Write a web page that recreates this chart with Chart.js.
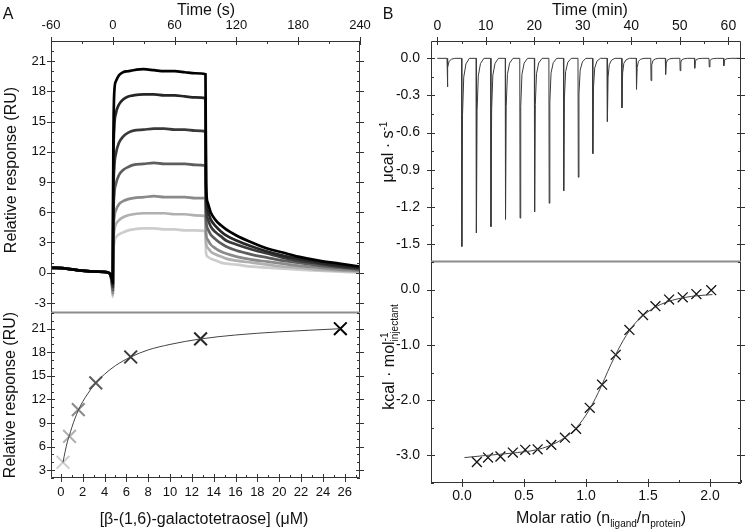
<!DOCTYPE html>
<html>
<head>
<meta charset="utf-8">
<script src="https://cdn.jsdelivr.net/npm/chart.js@4.4.0/dist/chart.umd.min.js"></script>
<style>
body{margin:0;width:745px;height:532px;position:relative;background:#fff;font-family:"Liberation Sans",Arial,sans-serif;color:#111;overflow:hidden}
canvas{position:absolute}
.t{position:absolute;white-space:nowrap;font-size:16px;line-height:1;transform:translate(-50%,-50%)}
.v{transform:translate(-50%,-50%) rotate(-90deg)}
sub,sup{font-size:10px;line-height:0}
.ss{display:inline-block;vertical-align:middle;line-height:1;font-size:10px}
.ss span{display:block}
</style>
</head>
<body>
<canvas id="a1" width="372" height="316" style="left:0px;top:0px"></canvas>
<canvas id="a2" width="372" height="222" style="left:0px;top:310px"></canvas>
<canvas id="b1" width="373" height="265" style="left:372px;top:0px"></canvas>
<canvas id="b2" width="373" height="273" style="left:372px;top:259px"></canvas>

<div class="t" style="left:8px;top:14px">A</div>
<div class="t" style="left:388px;top:14px">B</div>
<div class="t" style="left:206px;top:10px">Time (s)</div>
<div class="t" style="left:590px;top:10px">Time (min)</div>
<div class="t v" style="left:11px;top:170px">Relative response (RU)</div>
<div class="t v" style="left:10px;top:395px">Relative response (RU)</div>
<div class="t" style="left:204px;top:519px">[β-(1,6)-galactotetraose] (μM)</div>
<div class="t v" style="left:388px;top:152px">μcal · s<sup>-1</sup></div>
<div class="t v" style="left:390px;top:357px">kcal · mol<span class="ss"><span>-1</span><span>injectant</span></span></div>
<div class="t" style="left:601px;top:518px">Molar ratio (n<sub>ligand</sub>/n<sub>protein</sub>)</div>

<script>
// A: SPR sensorgrams (Time in s)
const sprTime=[-60,-45,-30,-15,-4,-1,0,0.5,1.5,3,6,10,15,20,30,40,50,60,70,80,90,90.5,92,95,100,105,110,120,135,150,165,180,200,220,240]
const spr256=[0.5,0.4,0.2,0.1,0.0,-0.5,-1.0,12,18.0,19.0,19.6,19.9,20.0,20.1,20.2,20.1,20.0,20.0,19.9,19.8,19.7,9.0,7.0,6.0,5.2,4.7,4.3,3.7,3.0,2.4,2.0,1.6,1.2,0.9,0.6]
const spr128=[0.5,0.4,0.2,0.1,0.0,-0.6,-1.2,10,14.5,15.8,16.7,17.2,17.5,17.6,17.7,17.7,17.6,17.6,17.5,17.4,17.3,8.0,6.2,5.3,4.6,4.1,3.7,3.2,2.6,2.1,1.7,1.4,1.0,0.7,0.5]
const spr64=[0.5,0.4,0.2,0.1,0.0,-0.7,-1.4,7,10.5,11.8,12.9,13.5,13.9,14.1,14.2,14.3,14.3,14.2,14.2,14.1,14.0,7.0,5.4,4.6,4.0,3.6,3.2,2.8,2.3,1.9,1.5,1.2,0.9,0.6,0.4]
const spr32=[0.5,0.4,0.2,0.1,0.0,-0.8,-1.7,5,7.8,8.8,9.7,10.2,10.5,10.7,10.8,10.9,10.8,10.8,10.8,10.7,10.6,5.5,4.4,3.8,3.3,2.9,2.6,2.2,1.8,1.5,1.2,1.0,0.7,0.5,0.3]
const spr16=[0.5,0.4,0.2,0.1,0.0,-0.9,-2.0,3.5,5.5,6.2,6.8,7.1,7.3,7.4,7.5,7.6,7.5,7.5,7.5,7.4,7.4,4.0,3.3,2.8,2.4,2.1,1.9,1.6,1.3,1.1,0.9,0.7,0.5,0.3,0.2]
const spr08=[0.5,0.4,0.2,0.1,0.0,-1.0,-2.2,2.5,4.2,4.8,5.2,5.5,5.7,5.8,5.9,5.9,5.9,5.8,5.8,5.7,5.6,3.0,2.5,2.1,1.8,1.6,1.4,1.2,1.0,0.8,0.6,0.5,0.3,0.2,0.1]
const spr02=[0.5,0.4,0.2,0.1,0.0,-1.1,-2.4,1.5,3.0,3.5,3.8,4.0,4.2,4.3,4.4,4.4,4.3,4.3,4.2,4.2,4.1,2.0,1.6,1.4,1.2,1.0,0.9,0.8,0.6,0.5,0.4,0.3,0.2,0.1,0.0]
const sprSeries=[spr256,spr128,spr64,spr32,spr16,spr08,spr02]
const sprColors=["#000000","#262626","#3a3a3a","#5e5e5e","#8a8a8a","#b0b0b0","#cdcdcd"]
const timeSTicks=[-60,0,60,120,180,240]
const respTicks=[-3,0,3,6,9,12,15,18,21]

// A: steady-state response vs concentration
const concPoints=[25.6,12.8,6.4,3.2,1.6,0.8,0.2]
const respPoints=[21.0,19.7,17.4,14.1,10.7,7.3,4.0]
const concFit=[0.2,0.4,0.6,0.8,1.0,1.3,1.6,2.0,2.5,3.2,4,5,6.4,8,10,12.8,16,20,25.6]
const respFit=[4.0,5.4,6.6,7.5,8.4,9.6,10.6,11.7,12.8,14.1,15.2,16.3,17.4,18.3,19.0,19.7,20.2,20.6,21.0]
const concTicks=[0,2,4,6,8,10,12,14,16,18,20,22,24,26]
const resp2Ticks=[3,6,9,12,15,18,21]

// B: ITC raw heats (Time in min)
const injTimes=[2,5,8,11,14,17,20,23,26,29,32,35,38,41,44,47,50,53,56,59]
const injPeaks=[-0.23,-1.52,-1.41,-1.36,-1.30,-1.29,-1.24,-1.17,-1.07,-0.96,-0.77,-0.51,-0.40,-0.25,-0.18,-0.13,-0.10,-0.08,-0.07,-0.06]
const spikeDt=[0,0.06,0.2,0.45,0.9,1.6]
const spikeFrac=[0,1,0.3,0.1,0.03,0]
const timeMinTicks=[0,10,20,30,40,50,60]
const heatTicks=[-1.5,-1.2,-0.9,-0.6,-0.3,0]

// B: integrated heats
const ratioPoints=[0.12,0.21,0.31,0.41,0.51,0.61,0.72,0.83,0.92,1.03,1.13,1.24,1.35,1.46,1.56,1.67,1.78,1.89,2.01]
const dhPoints=[-3.12,-3.04,-3.02,-2.95,-2.90,-2.89,-2.81,-2.68,-2.52,-2.14,-1.72,-1.18,-0.73,-0.46,-0.30,-0.18,-0.14,-0.08,-0.01]
const ratioFit=[0.02,0.2,0.4,0.6,0.7,0.8,0.9,1.0,1.1,1.2,1.3,1.4,1.5,1.6,1.7,1.8,1.9,2.02]
const dhFit=[-3.04,-3.0,-2.96,-2.9,-2.83,-2.72,-2.55,-2.27,-1.86,-1.36,-0.92,-0.6,-0.4,-0.27,-0.19,-0.14,-0.11,-0.09]
const ratioTicks=[0,0.5,1.0,1.5,2.0]
const dhTicks=[-3,-2,-1,0]

const FONT='"Liberation Sans", Arial, sans-serif'
const xy=(xs,ys)=>xs.map((x,i)=>({x:x,y:ys[i]}))

const fixSize=(n)=>(s)=>{
    if(s.isHorizontal()) s.height=n; else s.width=n;
    s.paddingLeft=s.paddingRight=s.paddingTop=s.paddingBottom=0;
}
const setTicks=(arr)=>(s)=>{ s.ticks=arr.map(v=>({value:v})) }

// frame + inner/outer tick marks
const drawMarks=(ctx,scale,step,edges,a)=>{
    const majors=scale.ticks.map(t=>t.value)
    const mark=(v,out,inn)=>{
        const p=Math.round(scale.getPixelForValue(v))+0.5
        edges.forEach(e=>{
            ctx.beginPath()
            if(e=="top"){ctx.moveTo(p,a.top-out);ctx.lineTo(p,a.top+inn)}
            if(e=="bottom"){ctx.moveTo(p,a.bottom+out);ctx.lineTo(p,a.bottom-inn)}
            if(e=="left"){ctx.moveTo(a.left-out,p);ctx.lineTo(a.left+inn,p)}
            if(e=="right"){ctx.moveTo(a.right+out,p);ctx.lineTo(a.right-inn,p)}
            ctx.stroke()
        })
    }
    for(let v=Math.ceil(scale.min/step)*step; v<=scale.max+1e-9; v+=step){
        const r=+v.toFixed(6)
        if(!majors.some(m=>Math.abs(m-r)<1e-6)) mark(r,0,3)
    }
    majors.forEach(v=>mark(v,4,4))
}

const framePlugin={
    id:"frame",
    afterDraw(chart,args,opts){
        const {ctx,chartArea:a,scales}=chart
        ctx.save()
        ctx.strokeStyle="#333"
        ctx.lineWidth=1
        drawMarks(ctx,scales.x,opts.xMinor,opts.xEdges,a)
        drawMarks(ctx,scales.y,opts.yMinor,["left","right"],a)
        const side=(name,x1,y1,x2,y2)=>{
            if(opts.skip==name) return
            const sep=opts.sep==name
            ctx.strokeStyle=sep?"#8c8c8c":"#333"
            ctx.lineWidth=sep?2:1
            ctx.beginPath();ctx.moveTo(x1,y1);ctx.lineTo(x2,y2);ctx.stroke()
        }
        const L=Math.round(a.left)+0.5,R=Math.round(a.right)-0.5,T=Math.round(a.top)+0.5,B=Math.round(a.bottom)-0.5
        side("left",L,T,L,B)
        side("right",R,T,R,B)
        side("top",L,T,R,T)
        side("bottom",L,B,R,B)
        ctx.restore()
    }
}

const tickFont=(n)=>({family:FONT,size:n})

const makeChart=(id,datasets,cfg)=>{
    return new Chart(document.getElementById(id),{
        type:"line",
        data:{datasets:datasets},
        options:{
            responsive:false,
            animation:false,
            layout:{padding:cfg.padding,autoPadding:false},
            plugins:{legend:{display:false},tooltip:{enabled:false},frame:cfg.frame},
            elements:{point:{radius:0}},
            scales:{
                x:{
                    type:"linear",position:cfg.xPos,min:cfg.xMin,max:cfg.xMax,
                    grid:{display:false,drawTicks:false},border:{display:false},
                    ticks:{color:"#111",font:tickFont(cfg.font),padding:cfg.xPad,maxRotation:0,autoSkip:false,callback:cfg.xFmt},
                    afterBuildTicks:setTicks(cfg.xTicks),
                    afterFit:fixSize(cfg.xSize)
                },
                y:{
                    type:"linear",position:"left",min:cfg.yMin,max:cfg.yMax,
                    grid:{display:false,drawTicks:false},border:{display:false},
                    ticks:{color:"#111",font:tickFont(cfg.font),padding:cfg.yPad,autoSkip:false,callback:cfg.yFmt},
                    afterBuildTicks:setTicks(cfg.yTicks),
                    afterFit:fixSize(cfg.ySize)
                }
            }
        },
        plugins:[framePlugin]
    })
}

const intFmt=(v)=>String(v)
const oneDec=(v)=>Number(v).toFixed(1)

// A top: sensorgrams
makeChart("a1",
    sprSeries.map((s,i)=>({data:xy(sprTime,s),borderColor:sprColors[i],borderWidth:2.7,cubicInterpolationMode:"monotone",pointRadius:0})),
    {padding:{left:0,top:0,right:12,bottom:3},xPos:"top",xMin:-60,xMax:240,yMin:-4,yMax:23,
     xTicks:timeSTicks,yTicks:respTicks,xSize:41,ySize:51,xPad:8,yPad:5,font:13,xFmt:intFmt,yFmt:intFmt,
     frame:{xMinor:30,yMinor:1,xEdges:["top"],sep:"bottom"}})

// A bottom: binding isotherm
makeChart("a2",[
    {data:xy(concFit,respFit),borderColor:"#444",borderWidth:1,cubicInterpolationMode:"monotone",pointRadius:0},
    {data:xy(concPoints,respPoints),showLine:false,pointStyle:"crossRot",pointRadius:9,pointBorderWidth:2,
     pointBorderColor:sprColors,borderColor:"#000"}
],{padding:{left:0,top:3,right:12,bottom:0},xPos:"bottom",xMin:-0.9,xMax:27.4,yMin:2,yMax:23,
   xTicks:concTicks,yTicks:resp2Ticks,xSize:54,ySize:51,xPad:7,yPad:5,font:13,xFmt:intFmt,yFmt:intFmt,
   frame:{xMinor:1,yMinor:1,xEdges:["bottom"],skip:"top"}})

// B top: raw ITC trace
const itcTrace=[{x:0,y:0}]
injTimes.forEach((t,i)=>{
    spikeDt.forEach((d,j)=>itcTrace.push({x:t+d,y:injPeaks[i]*spikeFrac[j]}))
})
itcTrace.push({x:62.6,y:0})
makeChart("b1",[
    {data:itcTrace,borderColor:"#3a3a3a",borderWidth:1,tension:0,pointRadius:0}
],{padding:{left:0,top:0,right:4,bottom:3},xPos:"top",xMin:-1.3,xMax:62.6,yMin:-1.645,yMax:0.14,
   xTicks:timeMinTicks,yTicks:heatTicks,xSize:41,ySize:59,xPad:6,yPad:11,font:14,xFmt:intFmt,yFmt:oneDec,
   frame:{xMinor:5,yMinor:0.15,xEdges:["top"],sep:"bottom"}})

// B bottom: integrated heats
makeChart("b2",[
    {data:xy(ratioFit,dhFit),borderColor:"#444",borderWidth:1,cubicInterpolationMode:"monotone",pointRadius:0},
    {data:xy(ratioPoints,dhPoints),showLine:false,pointStyle:"crossRot",pointRadius:7,pointBorderWidth:1.3,
     pointBorderColor:"#111",borderColor:"#111"}
],{padding:{left:0,top:3,right:4,bottom:0},xPos:"bottom",xMin:-0.25,xMax:2.25,yMin:-3.5,yMax:0.5,
   xTicks:ratioTicks,yTicks:dhTicks,xSize:49,ySize:59,xPad:5,yPad:11,font:14,xFmt:oneDec,yFmt:oneDec,
   frame:{xMinor:0.25,yMinor:0.5,xEdges:["bottom"],skip:"top"}})
</script>
</body>
</html>
